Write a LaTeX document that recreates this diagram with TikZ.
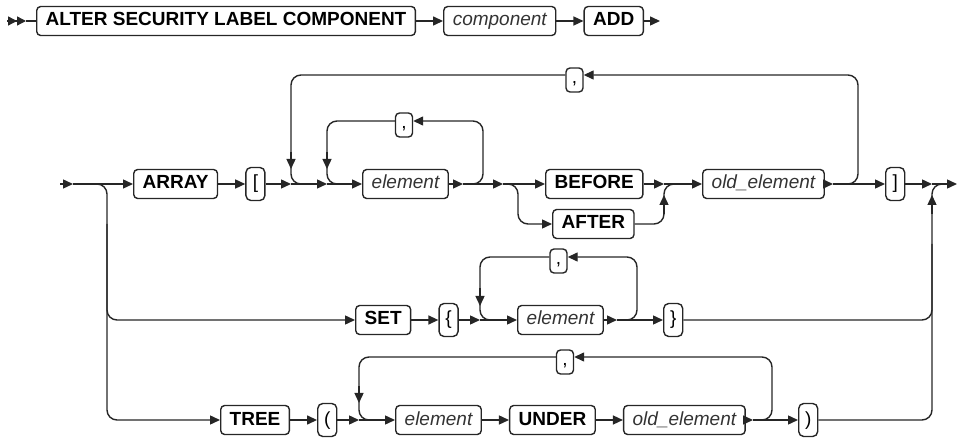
\documentclass[tikz,border=0pt]{standalone}
\usepackage{fontspec}
\setmainfont{Liberation Sans}
\usetikzlibrary{arrows.meta, positioning, calc}

\begin{document}
\begin{tikzpicture}[
    x=1pt, y=-1pt,
    node distance=27pt,
    font=\fontsize{19}{22}\selectfont,
    box/.style={rectangle, draw=black!85, line width=1.4pt, rounded corners=4pt, minimum height=29pt, inner xsep=9pt, inner ysep=0pt, text height=14pt, text depth=4pt},
    kw/.style={box, font=\fontsize{19}{22}\selectfont\bfseries},
    var/.style={box, font=\fontsize{19}{22}\selectfont\itshape, text=black!80},
    sym/.style={box, rounded corners=5pt, minimum width=19pt, minimum height=33pt, inner xsep=1pt},
    comma/.style={box, minimum width=17pt, minimum height=24pt, inner xsep=1pt, text height=9pt, text depth=1pt},
    railline/.style={line width=1.4pt, black!85},
    rail/.style={railline, -{Triangle[length=10pt, width=9pt]}},
    back/.style={railline, rounded corners=10pt}
]
\useasboundingbox (0,0) rectangle (962,438);

% first line
\coordinate (t0) at (7,21);
\coordinate (t1) at (26,21);
\node[kw, anchor=west] (alter) at (36,21) {ALTER SECURITY LABEL COMPONENT};
\node[var, right=of alter] (comp) {component};
\node[kw, right=of comp] (add) {ADD};
\coordinate (tend) at ($(add.east)+(16,0)$);

\draw[railline, -{Triangle[length=9pt, width=9pt] Triangle[length=9pt, width=9pt]}] (t0) -- (t1);
\draw[railline] (t1) -- (alter);
\draw[rail] (alter) -- (comp);
\draw[rail] (comp) -- (add);
\draw[rail] (add) -- (tend);

% ARRAY branch
\coordinate (s0) at (60,184);
\coordinate (s1) at (73,184);
\coordinate (br) at (107,184);
\node[kw, anchor=west] (arr) at (133,184) {ARRAY};
\node[sym, right=of arr] (lbrk) {[};
\coordinate (j1) at (291,184);
\coordinate (j2) at (327,184);
\node[var, anchor=west] (el1) at (362,184) {element};
\coordinate (j3) at (463,184);
\coordinate (j4) at (503,184);
\coordinate (sp) at (518,184);
\node[kw, anchor=west] (bef) at (545,184) {BEFORE};
\node[kw, anchor=west] (aft) at (552,224) {AFTER};
\coordinate (j5) at (664,184);
\node[var, anchor=west] (old1) at (702,184) {old\_element};
\coordinate (j6) at (833,184);
\node[sym, anchor=west] (rbrk) at (885,184) {]};
\coordinate (j7) at (932,184);
\coordinate (s2) at (957,184);
\coordinate (il) at (483,121);
\node[comma] (cm1) at (404,125) {,};
\coordinate (ol) at (858,75);
\node[comma] (cm2) at (574.5,80) {,};

\draw[rail] (s0) -- (s1);
\draw[rail] (s1) -- (arr);
\draw[rail] (arr) -- (lbrk);
\draw[rail] (lbrk) -- (j1);
\draw[rail] (j1) -- (j2);
\draw[rail] (j2) -- (el1);
\draw[rail] (el1) -- (j3);
\draw[rail] (j3) -- (j4);
\draw[rail] (j4) -- (bef);
\draw[rail, back] (j4) -- (sp) |- (aft.west);
\draw[rail] (bef) -- (j5);
\draw[back] (aft.east) -| (j5) -- ++(16,0);
\draw[rail] ($(j5)+(0,30)$) -- ($(j5)+(0,11)$);
\draw[rail] (j5) -- (old1);
\draw[rail] (old1) -- (j6);
\draw[rail] (j6) -- (rbrk);
\draw[rail] (rbrk) -- (j7);
\draw[rail] (j7) -- (s2);

% repeat loops
\draw[rail, back] (j3) -| (il) -- (cm1.east |- il);
\draw[back] (cm1.west |- il) -| (j2) -- ++(16,0);
\draw[rail] ($(j2)+(0,-32)$) -- ($(j2)+(0,-15)$);
\draw[rail, back] (j6) -| (ol) -- (cm2.east |- ol);
\draw[back] (cm2.west |- ol) -| (j1) -- ++(16,0);
\draw[rail] ($(j1)+(0,-32)$) -- ($(j1)+(0,-15)$);

% SET branch
\node[kw, anchor=west] (set) at (355,320) {SET};
\node[sym, right=of set] (lbrc) {\{};
\coordinate (j8) at (480,320);
\node[var, anchor=west] (el2) at (517,320) {element};
\coordinate (j9) at (617,320);
\coordinate (sl) at (637,257);
\node[comma] (cm3) at (558.5,261) {,};
\node[sym, anchor=west] (rbrc) at (663,320) {\}};

\draw[rail, back] ($(br)+(0,40)$) |- (set.west);
\draw[rail] (set) -- (lbrc);
\draw[rail] (lbrc) -- (j8);
\draw[rail] (j8) -- (el2);
\draw[rail] (el2) -- (j9);
\draw[rail] (j9) -- (rbrc);
\draw[back] (rbrc.east) -| ($(j7)+(0,60)$);
\draw[rail, back] (j9) -| (sl) -- (cm3.east |- sl);
\draw[back] (cm3.west |- sl) -| (j8) -- ++(16,0);
\draw[rail] ($(j8)+(0,-32)$) -- ($(j8)+(0,-14)$);

% TREE branch
\node[kw, anchor=west] (tree) at (220,420) {TREE};
\node[sym, right=of tree] (lpar) {(};
\coordinate (j10) at (359,420);
\node[var, anchor=west] (el3) at (395,420) {element};
\node[kw, right=of el3] (under) {UNDER};
\node[var, right=of under] (old2) {old\_element};
\coordinate (j11) at (753,420);
\coordinate (tl) at (772,357);
\node[comma] (cm4) at (565,362) {,};
\node[sym, anchor=west] (rpar) at (798,420) {)};

\draw[rail, back] (s1) -- (br) |- (tree.west);
\draw[rail] (tree) -- (lpar);
\draw[rail] (lpar) -- (j10);
\draw[rail] (j10) -- (el3);
\draw[rail] (el3) -- (under);
\draw[rail] (under) -- (old2);
\draw[rail] (old2) -- (j11);
\draw[rail] (j11) -- (rpar);
\draw[rail, back] (j11) -| (tl) -- (cm4.east |- tl);
\draw[back] (cm4.west |- tl) -| (j10) -- ++(16,0);
\draw[rail] ($(j10)+(0,-34)$) -- ($(j10)+(0,-17)$);
\draw[back] (rpar.east) -| (j7) -- ++(16,0);
\draw[rail] ($(j7)+(0,30)$) -- ($(j7)+(0,11)$);

\end{tikzpicture}
\end{document}
